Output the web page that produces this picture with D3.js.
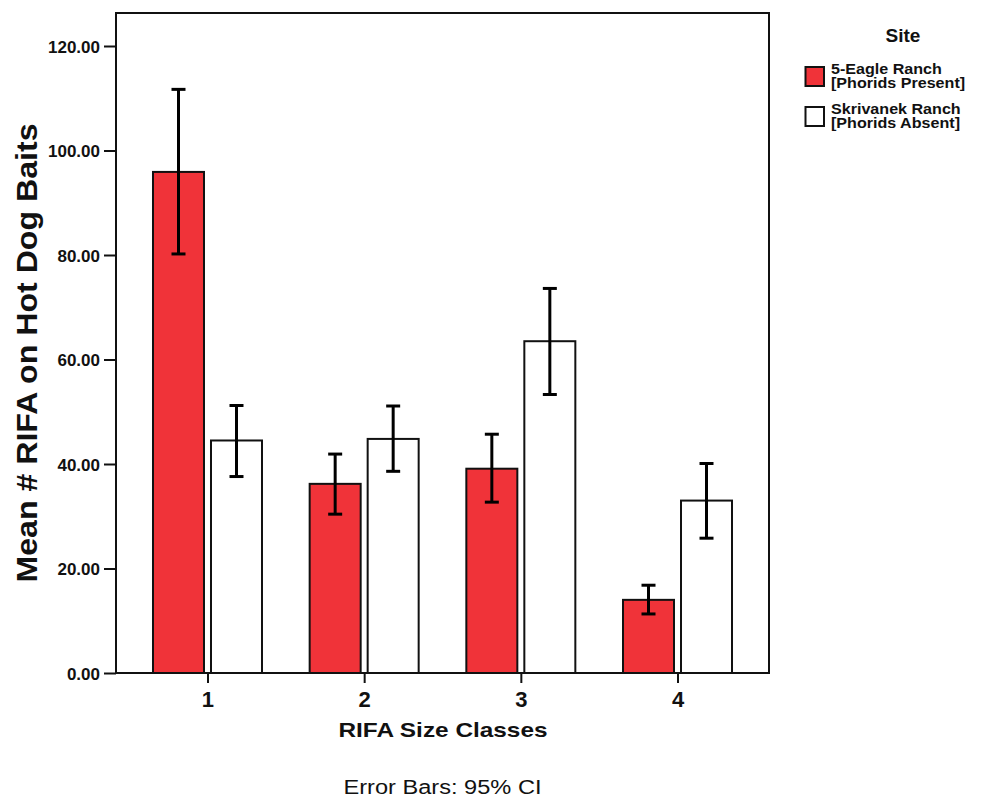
<!DOCTYPE html>
<html>
<head>
<meta charset="utf-8">
<script src="https://cdn.jsdelivr.net/npm/d3@7"></script>
<style>
  html, body { margin: 0; padding: 0; background: #fff; }
  svg { display: block; font-family: "Liberation Sans", Arial, sans-serif; }
</style>
</head>
<body>
<svg id="chart" width="985" height="798"></svg>
<script>
// Size classes on the x axis
const sizeClasses = ["1", "2", "3", "4"];
// Sites (series)
const sites = ["5-Eagle Ranch", "Skrivanek Ranch"];
const siteNotes = ["[Phorids Present]", "[Phorids Absent]"];
// Mean number of RIFA per bait, with 95% CI bounds
const eagleMean  = [95.9, 36.2, 39.1, 14.0];
const eagleLow   = [80.2, 30.4, 32.7, 11.3];
const eagleHigh  = [111.7, 41.9, 45.7, 16.8];
const skrivMean  = [44.5, 44.8, 63.5, 33.0];
const skrivLow   = [37.6, 38.6, 53.3, 25.8];
const skrivHigh  = [51.2, 51.1, 73.6, 40.1];
// Y axis ticks
const yTicks = [0, 20, 40, 60, 80, 100, 120];

const colors = ["#f03339", "#ffffff"];

const svg = d3.select("#chart");
const plot = { left: 116, right: 769, top: 13, bottom: 673 };

const x = d3.scalePoint()
  .domain(sizeClasses)
  .range([plot.left, plot.right])
  .padding(0.584);

const y = d3.scaleLinear()
  .domain([0, 120])
  .range([plot.bottom, 46]);

const barW = 51, gap = 3.5;

const series = [
  { mean: eagleMean, low: eagleLow, high: eagleHigh, offset: -gap - barW },
  { mean: skrivMean, low: skrivLow, high: skrivHigh, offset: gap }
];

// Bars
series.forEach((s, si) => {
  svg.append("g").selectAll("rect")
    .data(sizeClasses)
    .join("rect")
    .attr("x", d => x(d) + s.offset)
    .attr("y", (d, i) => y(s.mean[i]))
    .attr("width", barW)
    .attr("height", (d, i) => y(0) - y(s.mean[i]))
    .attr("fill", colors[si])
    .attr("stroke", "#111")
    .attr("stroke-width", 2);
});

// Error bars (95% CI)
series.forEach((s) => {
  const g = svg.append("g").attr("stroke", "#000").attr("stroke-width", 3);
  sizeClasses.forEach((c, i) => {
    const cx = x(c) + s.offset + barW / 2;
    g.append("line").attr("x1", cx).attr("x2", cx)
      .attr("y1", y(s.low[i])).attr("y2", y(s.high[i]));
    [s.low[i], s.high[i]].forEach(v => {
      g.append("line").attr("x1", cx - 7).attr("x2", cx + 7)
        .attr("y1", y(v)).attr("y2", y(v));
    });
  });
});

// Plot frame
svg.append("rect")
  .attr("x", plot.left).attr("y", plot.top)
  .attr("width", plot.right - plot.left)
  .attr("height", plot.bottom - plot.top)
  .attr("fill", "none")
  .attr("stroke", "#111")
  .attr("stroke-width", 2);

// Y axis
const yAxis = svg.append("g")
  .attr("transform", `translate(${plot.left},0)`)
  .call(d3.axisLeft(y).tickValues(yTicks).tickFormat(d3.format(".2f")).tickSize(12).tickPadding(4));
yAxis.select(".domain").remove();
yAxis.selectAll(".tick line").attr("stroke", "#111").attr("stroke-width", 2);
yAxis.selectAll(".tick text")
  .attr("fill", "#111")
  .attr("font-family", "Liberation Sans, Arial, sans-serif")
  .attr("font-size", 17).attr("font-weight", "bold")
  .attr("dy", "0.36em");

// X axis
const xAxis = svg.append("g")
  .attr("transform", `translate(0,${plot.bottom})`)
  .call(d3.axisBottom(x).tickSize(10).tickPadding(8));
xAxis.select(".domain").remove();
xAxis.selectAll(".tick line").attr("stroke", "#111").attr("stroke-width", 2);
xAxis.selectAll(".tick text")
  .attr("fill", "#111")
  .attr("font-family", "Liberation Sans, Arial, sans-serif")
  .attr("font-size", 22).attr("font-weight", "bold");

// Axis titles
svg.append("text")
  .attr("transform", "translate(37,353) rotate(-90)")
  .attr("text-anchor", "middle")
  .attr("font-size", 29).attr("font-weight", "bold").attr("fill", "#111")
  .attr("textLength", 459).attr("lengthAdjust", "spacingAndGlyphs")
  .text("Mean # RIFA on Hot Dog Baits");

svg.append("text")
  .attr("x", 443).attr("y", 737)
  .attr("text-anchor", "middle")
  .attr("font-size", 21).attr("font-weight", "bold").attr("fill", "#111")
  .attr("textLength", 209).attr("lengthAdjust", "spacingAndGlyphs")
  .text("RIFA Size Classes");

svg.append("text")
  .attr("x", 442.5).attr("y", 794)
  .attr("text-anchor", "middle")
  .attr("font-size", 20).attr("fill", "#111")
  .attr("textLength", 198).attr("lengthAdjust", "spacingAndGlyphs")
  .text("Error Bars: 95% CI");

// Legend
svg.append("text")
  .attr("x", 903).attr("y", 41.5)
  .attr("text-anchor", "middle")
  .attr("font-size", 19).attr("font-weight", "bold").attr("fill", "#111")
  .text("Site");

const legend = svg.append("g");
sites.forEach((name, i) => {
  const top = 67 + i * 40;
  legend.append("rect")
    .attr("x", 805.5).attr("y", top)
    .attr("width", 18.5).attr("height", 19)
    .attr("fill", colors[i]).attr("stroke", "#111").attr("stroke-width", 2);
  const t = legend.append("text")
    .attr("x", 831).attr("y", top + 7)
    .attr("font-size", 14).attr("font-weight", "bold").attr("fill", "#111");
  t.append("tspan").attr("x", 831).text(name);
  t.append("tspan").attr("x", 831).attr("dy", 14).text(siteNotes[i]);
});
// Slight horizontal widening of the legend labels
legend.selectAll("text").attr("transform", "translate(831,0) scale(1.15,1) translate(-831,0)");
</script>
</body>
</html>
